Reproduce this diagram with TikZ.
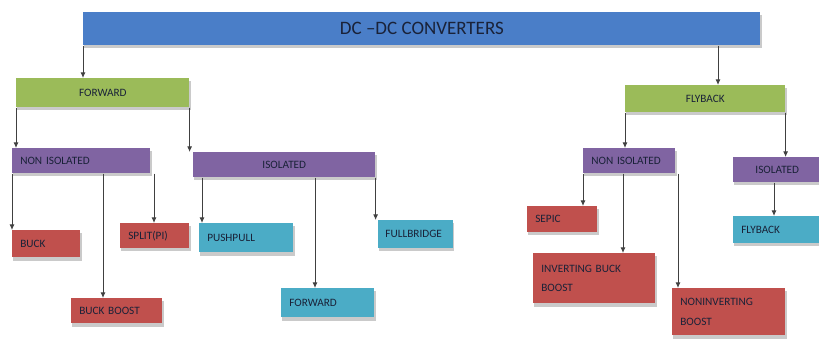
\documentclass[tikz,border=0pt]{standalone}
\usepackage{fontspec}
\setmainfont{Carlito}
\usetikzlibrary{arrows.meta,calc,shadows}

\definecolor{topblue}{HTML}{4A7EC8}
\definecolor{boxgreen}{HTML}{9BBB59}
\definecolor{boxpurple}{HTML}{8064A2}
\definecolor{boxred}{HTML}{C0504D}
\definecolor{boxcyan}{HTML}{4BACC6}
\definecolor{labelink}{HTML}{1A2238}

\tikzset{
  conv/.style={anchor=north west, inner xsep=0.2cm, inner ysep=0pt,
    font=\fontsize{8}{14}\selectfont, text=labelink,
    drop shadow={shadow xshift=0.03cm, shadow yshift=-0.08cm, fill=gray!70, opacity=.6}},
  head/.style={conv, fill=topblue, font=\fontsize{13.5}{16}\selectfont},
  group/.style={conv, fill=boxgreen},
  kind/.style={conv, fill=boxpurple},
  nonis/.style={conv, fill=boxred, align=left},
  isol/.style={conv, fill=boxcyan, align=left},
  feed/.style={-{Latex[length=4pt,width=3.5pt]}, draw=black!75, line width=0.6pt}
}

\begin{document}
\begin{tikzpicture}[x=0.025cm,y=-0.025cm]

	\useasboundingbox (0,0) rectangle (819,338);
	\clip (0,0) rectangle (819,338);

	\node[head, minimum width=16.925cm, minimum height=0.825cm] (dcdc) at (83,12) {DC –DC CONVERTERS};

	% forward side
	\node[group, minimum width=4.325cm, minimum height=0.725cm] (fwd) at (16,78) {FORWARD};
	\node[kind, text width=3.05cm, minimum height=0.625cm, align=left] (nisoL) at (12,148) {NON ISOLATED};
	\node[kind, minimum width=4.55cm, minimum height=0.625cm] (isoL) at (193,152) {ISOLATED};

	\node[nonis, text width=1.3cm, minimum height=0.675cm] (buck) at (12,230) {BUCK};
	\node[nonis, text width=1.325cm, minimum height=0.625cm] (split) at (120,223) {SPLIT(PI)};
	\node[nonis, text width=1.875cm, minimum height=0.625cm] (bboost) at (71,298) {BUCK BOOST};

	\node[isol, text width=1.95cm, minimum height=0.725cm] (push) at (199,223) {PUSHPULL};
	\node[isol, text width=1.925cm, minimum height=0.725cm] (fwdB) at (281,288) {FORWARD};
	\node[isol, text width=1.5cm, inner xsep=0.18cm, minimum height=0.7cm] (full) at (378,220) {FULLBRIDGE};

	% flyback side
	\node[group, minimum width=4cm, minimum height=0.675cm] (fly) at (625,85) {FLYBACK};
	\node[kind, text width=1.9cm, minimum height=0.625cm, align=left] (nisoR) at (583,148) {NON ISOLATED};
	\node[kind, minimum width=2.2cm, minimum height=0.625cm] (isoR) at (733,157) {ISOLATED};

	\node[nonis, text width=1.35cm, minimum height=0.65cm] (sepic) at (527,206) {SEPIC};
	\node[nonis, text width=2.65cm, minimum height=1.25cm] (inv) at (533,253) {INVERTING BUCK\\BOOST};
	\node[nonis, text width=2.425cm, minimum height=1.175cm] (noninv) at (672,288) {NONINVERTING\\BOOST};
	\node[isol, text width=1.975cm, minimum height=0.675cm] (flyB) at (733,216) {FLYBACK};

	% connectors
	\coordinate (c1) at ($(fly.north west)+(93,0)$);
	\coordinate (c2) at ($(bboost.north west)+(32,0)$);
	\coordinate (c3) at ($(split.north west)+(34,0)$);
	\coordinate (c4) at ($(push.north west)+(3,0)$);
	\coordinate (c5) at ($(fwdB.north west)+(34,0)$);
	\coordinate (c6) at ($(inv.north west)+(90,0)$);
	\coordinate (c7) at ($(noninv.north west)+(6,0)$);
	\coordinate (c8) at ($(flyB.north west)+(41,0)$);

	\draw[feed] (dcdc.south west) -- (dcdc.south west |- fwd.north);
	\draw[feed] (dcdc.south -| c1) -- (c1);

	\draw[feed] (fwd.south west) -- (fwd.south west |- nisoL.north);
	\draw[feed] (fwd.south east) -- (fwd.south east |- isoL.north);

	\draw[feed] (nisoL.south west) -- (nisoL.south west |- buck.north);
	\draw[feed] (nisoL.south -| c2) -- (c2);
	\draw[feed] (nisoL.south -| c3) -- (c3);

	\draw[feed] (isoL.south -| c4) -- (c4);
	\draw[feed] (isoL.south -| c5) -- (c5);
	\draw[feed] (isoL.south east) -- (isoL.south east |- full.north);

	\draw[feed] (fly.south west) -- (fly.south west |- nisoR.north);
	\draw[feed] (fly.south east) -- (fly.south east |- isoR.north);

	\draw[feed] (nisoR.south west) -- (nisoR.south west |- sepic.north);
	\draw[feed] (nisoR.south -| c6) -- (c6);
	\draw[feed] (nisoR.south -| c7) -- (c7);

	\draw[feed] (isoR.south -| c8) -- (c8);

\end{tikzpicture}
\end{document}
